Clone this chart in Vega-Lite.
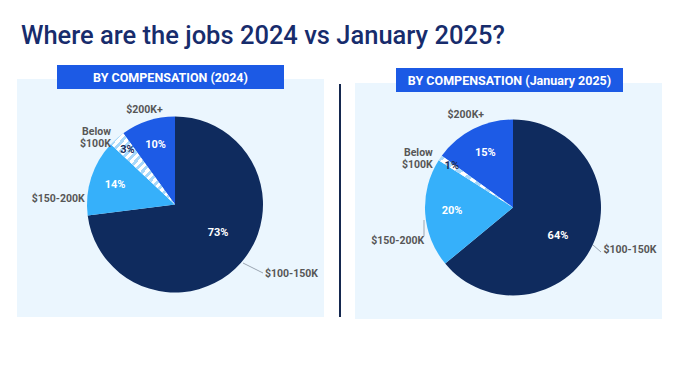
{
  "$schema": "https://vega.github.io/schema/vega-lite/v6.json",
  "padding": {"left": 17, "top": 23, "right": 0, "bottom": 0},
  "background": "white",
  "bounds": "flush",
  "spacing": 31,
  "title": {"text": "Where are the jobs 2024 vs January 2025?", "anchor": "start", "font": "Roboto", "fontSize": 25.5, "fontWeight": 500, "color": "#172c6c", "dx": 4, "offset": 16},
  "config": {"view": {"stroke": null}, "text": {"font": "Roboto"}},
  "datasets": {
    "y2024": [
      {"category": "$100-150K", "label": "$100-150K", "share": 0.73, "order": 1},
      {"category": "$150-200K", "label": "$150-200K", "share": 0.14, "order": 2},
      {"category": "Below $100K", "label": "Below\n$100K", "share": 0.03, "order": 3},
      {"category": "$200K+", "label": "$200K+", "share": 0.10, "order": 4}
    ],
    "y2025": [
      {"category": "$100-150K", "label": "$100-150K", "share": 0.64, "order": 1},
      {"category": "$150-200K", "label": "$150-200K", "share": 0.20, "order": 2},
      {"category": "Below $100K", "label": "Below\n$100K", "share": 0.01, "order": 3},
      {"category": "$200K+", "label": "$200K+", "share": 0.15, "order": 4}
    ]
  },
  "hconcat": [
    {
      "width": 307, "height": 254,
      "data": {"name": "y2024"},
      "layer": [
        {"data": {"values": [{"panel": "BY COMPENSATION (2024)"}]},
         "mark": {"type": "rect", "color": "#ebf6fe"},
         "encoding": {"x": {"datum": 0, "type": "quantitative", "scale": {"domain": [0, 307], "nice": false, "zero": false}, "axis": null}, "x2": {"datum": 307},
                      "y": {"datum": 14, "type": "quantitative", "scale": {"domain": [0, 254], "nice": false, "zero": false, "reverse": true}, "axis": null}, "y2": {"datum": 252}}},
        {"data": {"values": [{"panel": "BY COMPENSATION (2024)"}]},
         "mark": {"type": "rect", "color": "#1c5ae5"},
         "encoding": {"x": {"datum": 40, "type": "quantitative", "scale": {"domain": [0, 307], "nice": false, "zero": false}, "axis": null}, "x2": {"datum": 267},
                      "y": {"datum": 0, "type": "quantitative", "scale": {"domain": [0, 254], "nice": false, "zero": false, "reverse": true}, "axis": null}, "y2": {"datum": 24}}},
        {"data": {"values": [{"panel": "BY COMPENSATION (2024)"}]},
         "mark": {"type": "text", "color": "white", "fontWeight": "bold", "fontSize": 12.5, "align": "center", "baseline": "middle"},
         "encoding": {"x": {"datum": 153.5, "type": "quantitative", "scale": {"domain": [0, 307], "nice": false, "zero": false}, "axis": null},
                      "y": {"datum": 12.5, "type": "quantitative", "scale": {"domain": [0, 254], "nice": false, "zero": false, "reverse": true}, "axis": null},
                      "text": {"field": "panel"}}},
        {"data": {"values": [{"panel": "BY COMPENSATION (2024)"}]},
         "mark": {"type": "rule", "color": "#15284f", "strokeWidth": 2},
         "encoding": {"x": {"datum": 323, "type": "quantitative", "scale": {"domain": [0, 307], "nice": false, "zero": false}, "axis": null},
                      "y": {"datum": 19, "type": "quantitative", "scale": {"domain": [0, 254], "nice": false, "zero": false, "reverse": true}, "axis": null}, "y2": {"datum": 252}}},
        {"mark": {"type": "arc", "radius": 88},
         "encoding": {"x": {"datum": 158, "type": "quantitative", "scale": {"domain": [0, 307], "nice": false, "zero": false}, "axis": null},
                      "y": {"datum": 139.5, "type": "quantitative", "scale": {"domain": [0, 254], "nice": false, "zero": false, "reverse": true}, "axis": null},
                      "theta": {"field": "share", "type": "quantitative", "stack": true},
                      "order": {"field": "order", "type": "quantitative"},
                      "color": {"field": "category", "type": "nominal", "legend": null,
                                "scale": {"domain": ["$100-150K", "$150-200K", "Below $100K", "$200K+"], "range": ["#0f2b5e", "#36b0fa", "#d9eefc", "#1d5be6"]}}}},
        {"mark": {"type": "arc", "radius": 88, "fill": {"gradient": "linear", "x1": 1, "y1": 1, "x2": 0, "y2": 0, "stops": [
            {"offset": 0, "color": "#ffffff"}, {"offset": 0.03125, "color": "#ffffff"}, {"offset": 0.03125, "color": "#a8d8fa"}, {"offset": 0.0625, "color": "#a8d8fa"},
            {"offset": 0.0625, "color": "#ffffff"}, {"offset": 0.09375, "color": "#ffffff"}, {"offset": 0.09375, "color": "#a8d8fa"}, {"offset": 0.125, "color": "#a8d8fa"},
            {"offset": 0.125, "color": "#ffffff"}, {"offset": 0.15625, "color": "#ffffff"}, {"offset": 0.15625, "color": "#a8d8fa"}, {"offset": 0.1875, "color": "#a8d8fa"},
            {"offset": 0.1875, "color": "#ffffff"}, {"offset": 0.21875, "color": "#ffffff"}, {"offset": 0.21875, "color": "#a8d8fa"}, {"offset": 0.25, "color": "#a8d8fa"},
            {"offset": 0.25, "color": "#ffffff"}, {"offset": 0.28125, "color": "#ffffff"}, {"offset": 0.28125, "color": "#a8d8fa"}, {"offset": 0.3125, "color": "#a8d8fa"},
            {"offset": 0.3125, "color": "#ffffff"}, {"offset": 0.34375, "color": "#ffffff"}, {"offset": 0.34375, "color": "#a8d8fa"}, {"offset": 0.375, "color": "#a8d8fa"},
            {"offset": 0.375, "color": "#ffffff"}, {"offset": 0.40625, "color": "#ffffff"}, {"offset": 0.40625, "color": "#a8d8fa"}, {"offset": 0.4375, "color": "#a8d8fa"},
            {"offset": 0.4375, "color": "#ffffff"}, {"offset": 0.46875, "color": "#ffffff"}, {"offset": 0.46875, "color": "#a8d8fa"}, {"offset": 0.5, "color": "#a8d8fa"},
            {"offset": 0.5, "color": "#ffffff"}, {"offset": 0.53125, "color": "#ffffff"}, {"offset": 0.53125, "color": "#a8d8fa"}, {"offset": 0.5625, "color": "#a8d8fa"},
            {"offset": 0.5625, "color": "#ffffff"}, {"offset": 0.59375, "color": "#ffffff"}, {"offset": 0.59375, "color": "#a8d8fa"}, {"offset": 0.625, "color": "#a8d8fa"},
            {"offset": 0.625, "color": "#ffffff"}, {"offset": 0.65625, "color": "#ffffff"}, {"offset": 0.65625, "color": "#a8d8fa"}, {"offset": 0.6875, "color": "#a8d8fa"},
            {"offset": 0.6875, "color": "#ffffff"}, {"offset": 0.71875, "color": "#ffffff"}, {"offset": 0.71875, "color": "#a8d8fa"}, {"offset": 0.75, "color": "#a8d8fa"},
            {"offset": 0.75, "color": "#ffffff"}, {"offset": 0.78125, "color": "#ffffff"}, {"offset": 0.78125, "color": "#a8d8fa"}, {"offset": 0.8125, "color": "#a8d8fa"},
            {"offset": 0.8125, "color": "#ffffff"}, {"offset": 0.84375, "color": "#ffffff"}, {"offset": 0.84375, "color": "#a8d8fa"}, {"offset": 0.875, "color": "#a8d8fa"},
            {"offset": 0.875, "color": "#ffffff"}, {"offset": 0.90625, "color": "#ffffff"}, {"offset": 0.90625, "color": "#a8d8fa"}, {"offset": 0.9375, "color": "#a8d8fa"},
            {"offset": 0.9375, "color": "#ffffff"}, {"offset": 0.96875, "color": "#ffffff"}, {"offset": 0.96875, "color": "#a8d8fa"}, {"offset": 1, "color": "#a8d8fa"}]}},
         "encoding": {"x": {"datum": 158, "type": "quantitative", "scale": {"domain": [0, 307], "nice": false, "zero": false}, "axis": null},
                      "y": {"datum": 139.5, "type": "quantitative", "scale": {"domain": [0, 254], "nice": false, "zero": false, "reverse": true}, "axis": null},
                      "theta": {"field": "share", "type": "quantitative", "stack": true},
                      "order": {"field": "order", "type": "quantitative"},
                      "opacity": {"condition": {"test": "datum.order == 3", "value": 1}, "value": 0}}},
        {"mark": {"type": "text", "radius": 52, "dx": 4, "dy": -6, "color": "white", "fontWeight": "bold", "fontSize": 11, "align": "center", "baseline": "middle"},
         "encoding": {"x": {"datum": 158, "type": "quantitative", "scale": {"domain": [0, 307], "nice": false, "zero": false}, "axis": null},
                      "y": {"datum": 139.5, "type": "quantitative", "scale": {"domain": [0, 254], "nice": false, "zero": false, "reverse": true}, "axis": null},
                      "theta": {"field": "share", "type": "quantitative", "stack": true},
                      "order": {"field": "order", "type": "quantitative"},
                      "text": {"field": "share", "type": "quantitative", "format": ".0%"},
                      "opacity": {"condition": {"test": "datum.order == 1", "value": 1}, "value": 0}}},
        {"mark": {"type": "text", "radius": 63, "color": "white", "fontWeight": "bold", "fontSize": 11, "align": "center", "baseline": "middle"},
         "encoding": {"x": {"datum": 158, "type": "quantitative", "scale": {"domain": [0, 307], "nice": false, "zero": false}, "axis": null},
                      "y": {"datum": 139.5, "type": "quantitative", "scale": {"domain": [0, 254], "nice": false, "zero": false, "reverse": true}, "axis": null},
                      "theta": {"field": "share", "type": "quantitative", "stack": true},
                      "order": {"field": "order", "type": "quantitative"},
                      "text": {"field": "share", "type": "quantitative", "format": ".0%"},
                      "opacity": {"condition": {"test": "datum.order == 2 || datum.order == 4", "value": 1}, "value": 0}}},
        {"mark": {"type": "text", "radius": 72, "color": "#1b2d5a", "fontWeight": "bold", "fontSize": 11, "align": "center", "baseline": "middle"},
         "encoding": {"x": {"datum": 158, "type": "quantitative", "scale": {"domain": [0, 307], "nice": false, "zero": false}, "axis": null},
                      "y": {"datum": 139.5, "type": "quantitative", "scale": {"domain": [0, 254], "nice": false, "zero": false, "reverse": true}, "axis": null},
                      "theta": {"field": "share", "type": "quantitative", "stack": true},
                      "order": {"field": "order", "type": "quantitative"},
                      "text": {"field": "share", "type": "quantitative", "format": ".0%"},
                      "opacity": {"condition": {"test": "datum.order == 3", "value": 1}, "value": 0}}},
        {"mark": {"type": "text", "radius": 99, "color": "#575757", "fontWeight": "bold", "fontSize": 10.5, "align": "center", "baseline": "middle", "lineBreak": "\n", "lineHeight": 12},
         "encoding": {"x": {"datum": 158, "type": "quantitative", "scale": {"domain": [0, 307], "nice": false, "zero": false}, "axis": null},
                      "y": {"datum": 139.5, "type": "quantitative", "scale": {"domain": [0, 254], "nice": false, "zero": false, "reverse": true}, "axis": null},
                      "theta": {"field": "share", "type": "quantitative", "stack": true},
                      "order": {"field": "order", "type": "quantitative"},
                      "text": {"field": "label"},
                      "opacity": {"condition": {"test": "datum.order == 4", "value": 1}, "value": 0}}},
        {"mark": {"type": "text", "radius": 97, "color": "#575757", "fontWeight": "bold", "fontSize": 10.5, "align": "right", "baseline": "middle", "lineBreak": "\n", "lineHeight": 12},
         "encoding": {"x": {"datum": 158, "type": "quantitative", "scale": {"domain": [0, 307], "nice": false, "zero": false}, "axis": null},
                      "y": {"datum": 139.5, "type": "quantitative", "scale": {"domain": [0, 254], "nice": false, "zero": false, "reverse": true}, "axis": null},
                      "theta": {"field": "share", "type": "quantitative", "stack": true},
                      "order": {"field": "order", "type": "quantitative"},
                      "text": {"field": "label"},
                      "opacity": {"condition": {"test": "datum.order == 3", "value": 1}, "value": 0}}},
        {"mark": {"type": "text", "radius": 95, "dy": 24, "color": "#575757", "fontWeight": "bold", "fontSize": 10.5, "align": "right", "baseline": "middle"},
         "encoding": {"x": {"datum": 158, "type": "quantitative", "scale": {"domain": [0, 307], "nice": false, "zero": false}, "axis": null},
                      "y": {"datum": 139.5, "type": "quantitative", "scale": {"domain": [0, 254], "nice": false, "zero": false, "reverse": true}, "axis": null},
                      "theta": {"field": "share", "type": "quantitative", "stack": true},
                      "order": {"field": "order", "type": "quantitative"},
                      "text": {"field": "label"},
                      "opacity": {"condition": {"test": "datum.order == 2", "value": 1}, "value": 0}}},
        {"mark": {"type": "text", "radius": 112, "dx": 6, "dy": -5, "color": "#575757", "fontWeight": "bold", "fontSize": 10.5, "align": "left", "baseline": "middle"},
         "encoding": {"x": {"datum": 158, "type": "quantitative", "scale": {"domain": [0, 307], "nice": false, "zero": false}, "axis": null},
                      "y": {"datum": 139.5, "type": "quantitative", "scale": {"domain": [0, 254], "nice": false, "zero": false, "reverse": true}, "axis": null},
                      "theta": {"field": "share", "type": "quantitative", "stack": true},
                      "order": {"field": "order", "type": "quantitative"},
                      "text": {"field": "label"},
                      "opacity": {"condition": {"test": "datum.order == 1", "value": 1}, "value": 0}}},
        {"data": {"values": [{"panel": "BY COMPENSATION (2024)"}]},
         "mark": {"type": "rule", "color": "#9aa5b1", "strokeWidth": 1},
         "encoding": {"x": {"datum": 226, "type": "quantitative", "scale": {"domain": [0, 307], "nice": false, "zero": false}, "axis": null}, "x2": {"datum": 246},
                      "y": {"datum": 198, "type": "quantitative", "scale": {"domain": [0, 254], "nice": false, "zero": false, "reverse": true}, "axis": null}, "y2": {"datum": 208}}}
      ]
    },
    {
      "width": 307, "height": 254,
      "data": {"name": "y2025"},
      "layer": [
        {"data": {"values": [{"panel": "BY COMPENSATION (January 2025)"}]},
         "mark": {"type": "rect", "color": "#ebf6fe"},
         "encoding": {"x": {"datum": 0, "type": "quantitative", "scale": {"domain": [0, 307], "nice": false, "zero": false}, "axis": null}, "x2": {"datum": 307},
                      "y": {"datum": 18, "type": "quantitative", "scale": {"domain": [0, 254], "nice": false, "zero": false, "reverse": true}, "axis": null}, "y2": {"datum": 254}}},
        {"data": {"values": [{"panel": "BY COMPENSATION (January 2025)"}]},
         "mark": {"type": "rect", "color": "#1c5ae5"},
         "encoding": {"x": {"datum": 41, "type": "quantitative", "scale": {"domain": [0, 307], "nice": false, "zero": false}, "axis": null}, "x2": {"datum": 268},
                      "y": {"datum": 3, "type": "quantitative", "scale": {"domain": [0, 254], "nice": false, "zero": false, "reverse": true}, "axis": null}, "y2": {"datum": 27}}},
        {"data": {"values": [{"panel": "BY COMPENSATION (January 2025)"}]},
         "mark": {"type": "text", "color": "white", "fontWeight": "bold", "fontSize": 12.5, "align": "center", "baseline": "middle"},
         "encoding": {"x": {"datum": 154.5, "type": "quantitative", "scale": {"domain": [0, 307], "nice": false, "zero": false}, "axis": null},
                      "y": {"datum": 15.5, "type": "quantitative", "scale": {"domain": [0, 254], "nice": false, "zero": false, "reverse": true}, "axis": null},
                      "text": {"field": "panel"}}},
        {"mark": {"type": "arc", "radius": 88},
         "encoding": {"x": {"datum": 158, "type": "quantitative", "scale": {"domain": [0, 307], "nice": false, "zero": false}, "axis": null},
                      "y": {"datum": 142.5, "type": "quantitative", "scale": {"domain": [0, 254], "nice": false, "zero": false, "reverse": true}, "axis": null},
                      "theta": {"field": "share", "type": "quantitative", "stack": true},
                      "order": {"field": "order", "type": "quantitative"},
                      "color": {"field": "category", "type": "nominal", "legend": null,
                                "scale": {"domain": ["$100-150K", "$150-200K", "Below $100K", "$200K+"], "range": ["#0f2b5e", "#36b0fa", "#d9eefc", "#1d5be6"]}}}},
        {"mark": {"type": "arc", "radius": 88, "fill": {"gradient": "linear", "x1": 1, "y1": 1, "x2": 0, "y2": 0, "stops": [
            {"offset": 0, "color": "#ffffff"}, {"offset": 0.0625, "color": "#ffffff"}, {"offset": 0.0625, "color": "#a8d8fa"}, {"offset": 0.125, "color": "#a8d8fa"},
            {"offset": 0.125, "color": "#ffffff"}, {"offset": 0.1875, "color": "#ffffff"}, {"offset": 0.1875, "color": "#a8d8fa"}, {"offset": 0.25, "color": "#a8d8fa"},
            {"offset": 0.25, "color": "#ffffff"}, {"offset": 0.3125, "color": "#ffffff"}, {"offset": 0.3125, "color": "#a8d8fa"}, {"offset": 0.375, "color": "#a8d8fa"},
            {"offset": 0.375, "color": "#ffffff"}, {"offset": 0.4375, "color": "#ffffff"}, {"offset": 0.4375, "color": "#a8d8fa"}, {"offset": 0.5, "color": "#a8d8fa"},
            {"offset": 0.5, "color": "#ffffff"}, {"offset": 0.5625, "color": "#ffffff"}, {"offset": 0.5625, "color": "#a8d8fa"}, {"offset": 0.625, "color": "#a8d8fa"},
            {"offset": 0.625, "color": "#ffffff"}, {"offset": 0.6875, "color": "#ffffff"}, {"offset": 0.6875, "color": "#a8d8fa"}, {"offset": 0.75, "color": "#a8d8fa"},
            {"offset": 0.75, "color": "#ffffff"}, {"offset": 0.8125, "color": "#ffffff"}, {"offset": 0.8125, "color": "#a8d8fa"}, {"offset": 0.875, "color": "#a8d8fa"},
            {"offset": 0.875, "color": "#ffffff"}, {"offset": 0.9375, "color": "#ffffff"}, {"offset": 0.9375, "color": "#a8d8fa"}, {"offset": 1, "color": "#a8d8fa"}]}},
         "encoding": {"x": {"datum": 158, "type": "quantitative", "scale": {"domain": [0, 307], "nice": false, "zero": false}, "axis": null},
                      "y": {"datum": 142.5, "type": "quantitative", "scale": {"domain": [0, 254], "nice": false, "zero": false, "reverse": true}, "axis": null},
                      "theta": {"field": "share", "type": "quantitative", "stack": true},
                      "order": {"field": "order", "type": "quantitative"},
                      "opacity": {"condition": {"test": "datum.order == 3", "value": 1}, "value": 0}}},
        {"mark": {"type": "text", "radius": 53, "dx": -3, "dy": 6, "color": "white", "fontWeight": "bold", "fontSize": 11, "align": "center", "baseline": "middle"},
         "encoding": {"x": {"datum": 158, "type": "quantitative", "scale": {"domain": [0, 307], "nice": false, "zero": false}, "axis": null},
                      "y": {"datum": 142.5, "type": "quantitative", "scale": {"domain": [0, 254], "nice": false, "zero": false, "reverse": true}, "axis": null},
                      "theta": {"field": "share", "type": "quantitative", "stack": true},
                      "order": {"field": "order", "type": "quantitative"},
                      "text": {"field": "share", "type": "quantitative", "format": ".0%"},
                      "opacity": {"condition": {"test": "datum.order == 1", "value": 1}, "value": 0}}},
        {"mark": {"type": "text", "radius": 61, "color": "white", "fontWeight": "bold", "fontSize": 11, "align": "center", "baseline": "middle"},
         "encoding": {"x": {"datum": 158, "type": "quantitative", "scale": {"domain": [0, 307], "nice": false, "zero": false}, "axis": null},
                      "y": {"datum": 142.5, "type": "quantitative", "scale": {"domain": [0, 254], "nice": false, "zero": false, "reverse": true}, "axis": null},
                      "theta": {"field": "share", "type": "quantitative", "stack": true},
                      "order": {"field": "order", "type": "quantitative"},
                      "text": {"field": "share", "type": "quantitative", "format": ".0%"},
                      "opacity": {"condition": {"test": "datum.order == 2 || datum.order == 4", "value": 1}, "value": 0}}},
        {"mark": {"type": "text", "radius": 74, "color": "#1b2d5a", "fontWeight": "bold", "fontSize": 11, "align": "center", "baseline": "middle"},
         "encoding": {"x": {"datum": 158, "type": "quantitative", "scale": {"domain": [0, 307], "nice": false, "zero": false}, "axis": null},
                      "y": {"datum": 142.5, "type": "quantitative", "scale": {"domain": [0, 254], "nice": false, "zero": false, "reverse": true}, "axis": null},
                      "theta": {"field": "share", "type": "quantitative", "stack": true},
                      "order": {"field": "order", "type": "quantitative"},
                      "text": {"field": "share", "type": "quantitative", "format": ".0%"},
                      "opacity": {"condition": {"test": "datum.order == 3", "value": 1}, "value": 0}}},
        {"mark": {"type": "text", "radius": 104, "color": "#575757", "fontWeight": "bold", "fontSize": 10.5, "align": "center", "baseline": "middle"},
         "encoding": {"x": {"datum": 158, "type": "quantitative", "scale": {"domain": [0, 307], "nice": false, "zero": false}, "axis": null},
                      "y": {"datum": 142.5, "type": "quantitative", "scale": {"domain": [0, 254], "nice": false, "zero": false, "reverse": true}, "axis": null},
                      "theta": {"field": "share", "type": "quantitative", "stack": true},
                      "order": {"field": "order", "type": "quantitative"},
                      "text": {"field": "label"},
                      "opacity": {"condition": {"test": "datum.order == 4", "value": 1}, "value": 0}}},
        {"mark": {"type": "text", "radius": 97, "color": "#575757", "fontWeight": "bold", "fontSize": 10.5, "align": "right", "baseline": "middle", "lineBreak": "\n", "lineHeight": 12},
         "encoding": {"x": {"datum": 158, "type": "quantitative", "scale": {"domain": [0, 307], "nice": false, "zero": false}, "axis": null},
                      "y": {"datum": 142.5, "type": "quantitative", "scale": {"domain": [0, 254], "nice": false, "zero": false, "reverse": true}, "axis": null},
                      "theta": {"field": "share", "type": "quantitative", "stack": true},
                      "order": {"field": "order", "type": "quantitative"},
                      "text": {"field": "label"},
                      "opacity": {"condition": {"test": "datum.order == 3", "value": 1}, "value": 0}}},
        {"mark": {"type": "text", "radius": 95, "dx": 6, "dy": 28, "color": "#575757", "fontWeight": "bold", "fontSize": 10.5, "align": "right", "baseline": "middle"},
         "encoding": {"x": {"datum": 158, "type": "quantitative", "scale": {"domain": [0, 307], "nice": false, "zero": false}, "axis": null},
                      "y": {"datum": 142.5, "type": "quantitative", "scale": {"domain": [0, 254], "nice": false, "zero": false, "reverse": true}, "axis": null},
                      "theta": {"field": "share", "type": "quantitative", "stack": true},
                      "order": {"field": "order", "type": "quantitative"},
                      "text": {"field": "label"},
                      "opacity": {"condition": {"test": "datum.order == 2", "value": 1}, "value": 0}}},
        {"mark": {"type": "text", "radius": 100, "color": "#575757", "fontWeight": "bold", "fontSize": 10.5, "align": "left", "baseline": "middle"},
         "encoding": {"x": {"datum": 158, "type": "quantitative", "scale": {"domain": [0, 307], "nice": false, "zero": false}, "axis": null},
                      "y": {"datum": 142.5, "type": "quantitative", "scale": {"domain": [0, 254], "nice": false, "zero": false, "reverse": true}, "axis": null},
                      "theta": {"field": "share", "type": "quantitative", "stack": true},
                      "order": {"field": "order", "type": "quantitative"},
                      "text": {"field": "label"},
                      "opacity": {"condition": {"test": "datum.order == 1", "value": 1}, "value": 0}}},
        {"data": {"values": [{"panel": "BY COMPENSATION (January 2025)"}]},
         "mark": {"type": "rule", "color": "#9aa5b1", "strokeWidth": 1},
         "encoding": {"x": {"datum": 69, "type": "quantitative", "scale": {"domain": [0, 307], "nice": false, "zero": false}, "axis": null},
                      "y": {"datum": 155, "type": "quantitative", "scale": {"domain": [0, 254], "nice": false, "zero": false, "reverse": true}, "axis": null}, "y2": {"datum": 171}}},
        {"data": {"values": [{"panel": "BY COMPENSATION (January 2025)"}]},
         "mark": {"type": "rule", "color": "#9aa5b1", "strokeWidth": 1},
         "encoding": {"x": {"datum": 238, "type": "quantitative", "scale": {"domain": [0, 307], "nice": false, "zero": false}, "axis": null}, "x2": {"datum": 246},
                      "y": {"datum": 180, "type": "quantitative", "scale": {"domain": [0, 254], "nice": false, "zero": false, "reverse": true}, "axis": null}, "y2": {"datum": 187}}}
      ]
    }
  ]
}
